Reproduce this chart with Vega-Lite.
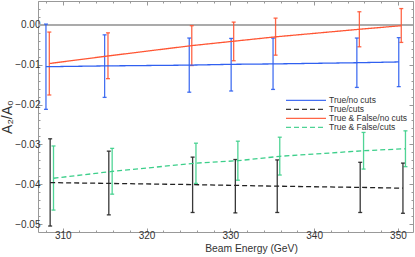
{
  "$schema": "https://vega.github.io/schema/vega-lite/v6.json",
  "width": 375,
  "height": 231,
  "autosize": {"type": "none"},
  "padding": {"left": 38, "top": 1, "right": 2, "bottom": 25},
  "background": "white",
  "config": {
    "view": {"stroke": "#999", "strokeWidth": 1},
    "font": "Liberation Sans",
    "axis": {
      "domain": false,
      "grid": false,
      "tickColor": "#999",
      "tickWidth": 1,
      "labelFont": "Liberation Sans",
      "labelFontSize": 10,
      "labelColor": "#333",
      "titleFont": "Liberation Sans",
      "titleFontWeight": "normal",
      "titleColor": "#333"
    },
    "legend": {
      "title": null, "orient": "none", "legendX": 247, "legendY": 95,
      "symbolType": "stroke", "symbolSize": 1600, "symbolStrokeWidth": 1.3,
      "clipHeight": 8.7, "rowPadding": 0, "labelFontSize": 8.5, "labelFont": "Liberation Sans",
      "labelColor": "#333", "labelOffset": 2, "padding": 0
    }
  },
  "data": {
    "values": [
      {"series": "True/no cuts", "E": 308.0, "c": -0.0105, "lo": -0.0212, "hi": 0.0002},
      {"series": "True/no cuts", "E": 315.0, "c": -0.0103, "lo": -0.0182, "hi": -0.0025},
      {"series": "True/no cuts", "E": 325.1, "c": -0.0101, "lo": -0.0169, "hi": -0.0033},
      {"series": "True/no cuts", "E": 330.1, "c": -0.0099, "lo": -0.0166, "hi": -0.0034},
      {"series": "True/no cuts", "E": 335.1, "c": -0.0098, "lo": -0.0162, "hi": -0.0033},
      {"series": "True/no cuts", "E": 345.1, "c": -0.0095, "lo": -0.0157, "hi": -0.0033},
      {"series": "True/no cuts", "E": 350.1, "c": -0.0093, "lo": -0.0155, "hi": -0.0032},
      {"series": "True/cuts", "E": 308.5, "c": -0.0396, "lo": -0.0505, "hi": -0.0286},
      {"series": "True/cuts", "E": 315.5, "c": -0.0398, "lo": -0.0477, "hi": -0.0317},
      {"series": "True/cuts", "E": 325.5, "c": -0.0401, "lo": -0.0471, "hi": -0.0332},
      {"series": "True/cuts", "E": 330.6, "c": -0.0403, "lo": -0.0472, "hi": -0.0338},
      {"series": "True/cuts", "E": 335.6, "c": -0.0405, "lo": -0.0471, "hi": -0.0339},
      {"series": "True/cuts", "E": 345.5, "c": -0.0408, "lo": -0.0471, "hi": -0.0345},
      {"series": "True/cuts", "E": 350.6, "c": -0.0410, "lo": -0.0473, "hi": -0.0347},
      {"series": "True & False/no cuts", "E": 308.4, "c": -0.0097, "lo": -0.0176, "hi": -0.0018},
      {"series": "True & False/no cuts", "E": 315.4, "c": -0.0078, "lo": -0.0135, "hi": -0.0020},
      {"series": "True & False/no cuts", "E": 325.4, "c": -0.0052, "lo": -0.0102, "hi": -0.0002},
      {"series": "True & False/no cuts", "E": 330.4, "c": -0.0041, "lo": -0.0090, "hi": 0.0007},
      {"series": "True & False/no cuts", "E": 335.4, "c": -0.0030, "lo": -0.0076, "hi": 0.0017},
      {"series": "True & False/no cuts", "E": 345.4, "c": -0.0011, "lo": -0.0055, "hi": 0.0033},
      {"series": "True & False/no cuts", "E": 350.4, "c": -0.0002, "lo": -0.0044, "hi": 0.0041},
      {"series": "True & False/cuts", "E": 308.9, "c": -0.0385, "lo": -0.0465, "hi": -0.0304},
      {"series": "True & False/cuts", "E": 315.9, "c": -0.0368, "lo": -0.0425, "hi": -0.0310},
      {"series": "True & False/cuts", "E": 325.9, "c": -0.0347, "lo": -0.0398, "hi": -0.0297},
      {"series": "True & False/cuts", "E": 330.9, "c": -0.0341, "lo": -0.0390, "hi": -0.0292},
      {"series": "True & False/cuts", "E": 335.9, "c": -0.0330, "lo": -0.0377, "hi": -0.0282},
      {"series": "True & False/cuts", "E": 345.9, "c": -0.0316, "lo": -0.0362, "hi": -0.0270},
      {"series": "True & False/cuts", "E": 350.9, "c": -0.0311, "lo": -0.0356, "hi": -0.0266}
    ]
  },
  "resolve": {"axis": {"x": "independent", "y": "independent"}},
  "layer": [
    {
      "mark": {"type": "rule", "color": "#aaa", "strokeWidth": 1},
      "encoding": {
        "y": {"datum": 0, "type": "quantitative", "axis": null}
      }
    },
    {
      "mark": {"type": "errorbar", "ticks": {"size": 4}, "thickness": 1.3, "opacity": 0.9},
      "encoding": {
        "x": {
          "field": "E", "type": "quantitative",
          "scale": {"domain": [307.05, 351.8], "nice": false, "zero": false},
          "axis": {
            "orient": "bottom",
            "title": "Beam Energy (GeV)",
            "titleFontSize": 10.3,
            "titleX": 213,
            "titlePadding": 1,
            "values": [308,310,312,314,316,318,320,322,324,326,328,330,332,334,336,338,340,342,344,346,348,350],
            "labelExpr": "datum.value % 10 === 0 ? datum.label : ''",
            "tickSize": {"condition": {"test": "datum.value % 10 === 0", "value": -4}, "value": -2},
            "labelPadding": 2,
            "labelFlush": false,
            "labelOverlap": false
          }
        },
        "y": {
          "field": "lo", "type": "quantitative",
          "scale": {"domain": [-0.052, 0.006], "nice": false, "zero": false},
          "axis": {
            "orient": "left",
            "title": "A₂/A₀",
            "titleFontSize": 14,
            "titlePadding": 0,
            "values": [-0.05,-0.048,-0.046,-0.044,-0.042,-0.04,-0.038,-0.036,-0.034,-0.032,-0.03,-0.028,-0.026,-0.024,-0.022,-0.02,-0.018,-0.016,-0.014,-0.012,-0.01,-0.008,-0.006,-0.004,-0.002,0,0.002,0.004,0.006],
            "labelExpr": "abs(round(datum.value*1000)) % 10 === 0 ? format(datum.value, '.2f') : ''",
            "tickSize": {"condition": {"test": "abs(round(datum.value*1000)) % 10 === 0", "value": -4}, "value": -2},
            "labelPadding": 2,
            "labelFlush": false,
            "labelOverlap": false
          }
        },
        "y2": {"field": "hi"},
        "color": {"field": "series", "type": "nominal",
          "scale": {"domain": ["True/no cuts", "True/cuts", "True & False/no cuts", "True & False/cuts"],
                    "range": ["#3060f0", "#222222", "#ff5533", "#3ccf8a"]}}
      }
    },
    {
      "mark": {"type": "line", "strokeWidth": 1.3},
      "encoding": {
        "x": {
          "field": "E", "type": "quantitative",
          "axis": {
            "orient": "top", "title": null, "labels": false,
            "values": [308,310,312,314,316,318,320,322,324,326,328,330,332,334,336,338,340,342,344,346,348,350],
            "tickSize": {"condition": {"test": "datum.value % 10 === 0", "value": -4}, "value": -2}
          }
        },
        "y": {
          "field": "c", "type": "quantitative",
          "axis": {
            "orient": "right", "title": null, "labels": false,
            "values": [-0.05,-0.048,-0.046,-0.044,-0.042,-0.04,-0.038,-0.036,-0.034,-0.032,-0.03,-0.028,-0.026,-0.024,-0.022,-0.02,-0.018,-0.016,-0.014,-0.012,-0.01,-0.008,-0.006,-0.004,-0.002,0,0.002,0.004,0.006],
            "tickSize": {"condition": {"test": "abs(round(datum.value*1000)) % 10 === 0", "value": -4}, "value": -2}
          }
        },
        "color": {"field": "series", "type": "nominal"},
        "strokeDash": {"field": "series", "type": "nominal",
          "scale": {"domain": ["True/no cuts", "True/cuts", "True & False/no cuts", "True & False/cuts"],
                    "range": [[1, 0], [5, 3], [1, 0], [5, 3]]}}
      }
    }
  ]
}
